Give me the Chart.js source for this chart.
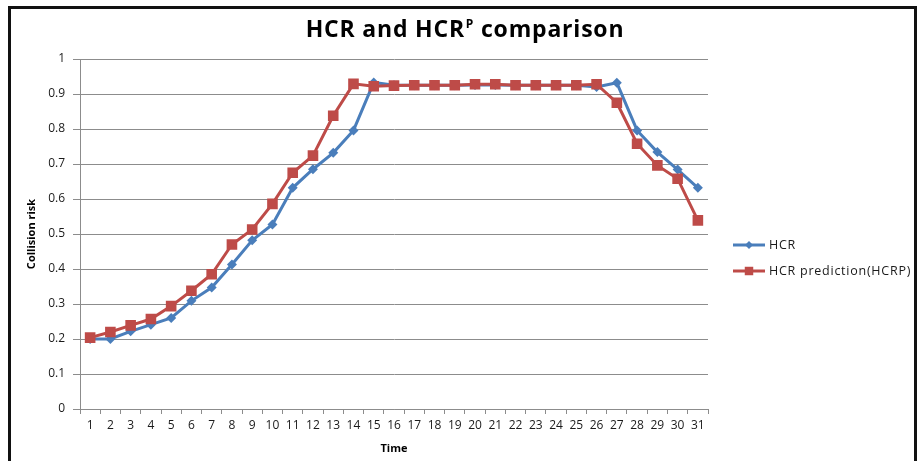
<!DOCTYPE html>
<html>
<head>
<meta charset="utf-8">
<script src="https://cdn.jsdelivr.net/npm/chart.js@4/dist/chart.umd.min.js"></script>
<style>
  html, body { margin: 0; padding: 0; background: #fff; }
  #wrap { position: relative; width: 921px; height: 461px; }
</style>
</head>
<body>
<div id="wrap"><canvas id="c" width="921" height="461"></canvas></div>
<script>
// Time steps
const times = ['1','2','3','4','5','6','7','8','9','10','11','12','13','14','15','16',
  '17','18','19','20','21','22','23','24','25','26','27','28','29','30','31'];
// Measured collision risk
const hcr = [0.200, 0.200, 0.222, 0.241, 0.260, 0.309, 0.347, 0.413, 0.482, 0.527, 0.632,
  0.685, 0.732, 0.796, 0.933, 0.925, 0.925, 0.925, 0.925, 0.926, 0.926, 0.925, 0.925,
  0.925, 0.925, 0.920, 0.932, 0.796, 0.734, 0.684, 0.632];
// Predicted collision risk
const hcrp = [0.204, 0.220, 0.239, 0.257, 0.294, 0.338, 0.385, 0.470, 0.513, 0.586, 0.675,
  0.724, 0.838, 0.929, 0.922, 0.924, 0.925, 0.925, 0.925, 0.928, 0.928, 0.925, 0.925,
  0.925, 0.925, 0.928, 0.875, 0.758, 0.696, 0.658, 0.539];
const seriesNames = ['HCR', 'HCR prediction(HCRP)'];
const yTicks = [0, 0.1, 0.2, 0.3, 0.4, 0.5, 0.6, 0.7, 0.8, 0.9, 1];

const BLUE = '#4A7EBB';
const RED = '#BE4B48';
const GRID = '#8C8C8C';
const TEXT = '#1a1a1a';
const FONT = '"Open Sans", Lato, sans-serif';

// Frame, title with superscript, and line+marker legend
const decor = {
  id: 'decor',
  afterDraw(chart) {
    const ctx = chart.ctx;
    ctx.save();
    // outer frame
    ctx.strokeStyle = '#111';
    ctx.lineWidth = 3;
    ctx.strokeRect(9.5, 7.5, 906, 470);

    // title: "HCR and HCR" + superscript "P" + " comparison"
    const a = 'HCR and HCR', sup = 'P', b = ' comparison';
    const big = 'bold 23px ' + FONT, small = 'bold 12px ' + FONT;
    ctx.letterSpacing = '0.8px';
    ctx.fillStyle = '#000';
    ctx.textBaseline = 'alphabetic';
    ctx.font = big;
    const wa = ctx.measureText(a).width, wb = ctx.measureText(b).width;
    ctx.font = small;
    const ws = ctx.measureText(sup).width;
    let x = 465 - (wa + ws + wb + 1) / 2;
    const base = 37;
    ctx.font = big; ctx.textAlign = 'left';
    ctx.fillText(a, x, base); x += wa + 1;
    ctx.font = small; ctx.fillText(sup, x, base - 9); x += ws;
    ctx.font = big; ctx.fillText(b, x, base);

    // legend
    ctx.letterSpacing = '0.75px';
    const items = chart.data.datasets.slice().sort((p, q) => p.legendIndex - q.legendIndex);
    items.forEach((ds, i) => {
      const y = 245 + i * 26;
      ctx.strokeStyle = ds.borderColor;
      ctx.lineWidth = 3;
      ctx.beginPath(); ctx.moveTo(733, y); ctx.lineTo(765, y); ctx.stroke();
      ctx.fillStyle = ds.backgroundColor;
      Chart.helpers.drawPoint(ctx, {
        pointStyle: ds.pointStyle, radius: ds.pointRadius * 0.8, borderWidth: 0, rotation: 0
      }, 749, y);
      ctx.fillStyle = TEXT;
      ctx.font = '12.5px ' + FONT;
      ctx.textBaseline = 'middle';
      ctx.fillText(ds.label, 769, y);
    });
    ctx.restore();
  }
};

new Chart(document.getElementById('c'), {
  type: 'line',
  data: {
    labels: times,
    datasets: [
      {
        label: seriesNames[0], data: hcr, legendIndex: 0, order: 2,
        borderColor: BLUE, backgroundColor: BLUE, borderWidth: 3,
        pointStyle: 'rectRot', pointRadius: 5, pointBorderWidth: 0,
        pointBackgroundColor: BLUE, tension: 0
      },
      {
        label: seriesNames[1], data: hcrp, legendIndex: 1, order: 1,
        borderColor: RED, backgroundColor: RED, borderWidth: 3,
        pointStyle: 'rect', pointRadius: 7.5, pointBorderWidth: 0,
        pointBackgroundColor: RED, tension: 0
      }
    ]
  },
  options: {
    responsive: false,
    animation: false,
    layout: { padding: { top: 59, right: 213, left: 0, bottom: 0 } },
    plugins: { legend: { display: false }, tooltip: { enabled: false }, title: { display: false } },
    scales: {
      x: {
        offset: true,
        grid: { offset: true, drawOnChartArea: false, drawTicks: true, tickLength: 5, color: GRID },
        border: { color: GRID, width: 1 },
        ticks: { color: TEXT, font: { family: FONT, size: 12 }, padding: 4, maxRotation: 0, autoSkip: false },
        title: { display: true, text: 'Time', color: '#000', font: { family: FONT, size: 11, weight: 'bold' }, padding: { top: 2, bottom: 6 } },
        afterFit(s) { s.height = 52; }
      },
      y: {
        min: 0, max: 1,
        afterBuildTicks(s) { s.ticks = yTicks.map(v => ({ value: v })); },
        grid: { color: GRID, tickLength: 7, drawTicks: true },
        border: { color: GRID, width: 1 },
        ticks: { color: TEXT, font: { family: FONT, size: 12 }, padding: 8,
          callback: v => String(Math.round(v * 10) / 10) },
        title: { display: true, text: 'Collision risk', color: '#000', font: { family: FONT, size: 11, weight: 'bold' }, padding: { top: 25, bottom: 0 } },
        afterFit(s) { s.width = 80; }
      }
    }
  },
  plugins: [decor]
});
</script>
</body>
</html>
